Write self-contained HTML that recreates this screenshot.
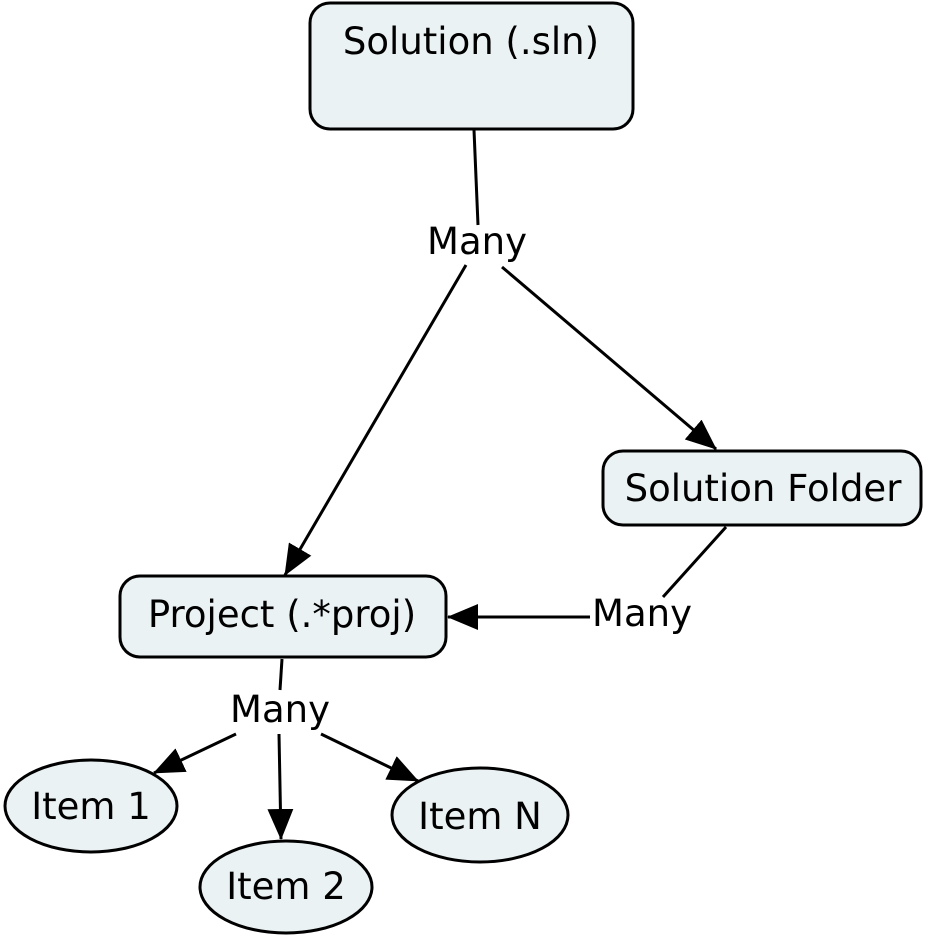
<!DOCTYPE html>
<html><head><meta charset="utf-8"><style>html,body{margin:0;padding:0;background:#fff}svg{display:block}</style></head>
<body>
<svg width="928" height="941" viewBox="0 0 928 941" xmlns="http://www.w3.org/2000/svg" font-family="'DejaVu Sans', Verdana, sans-serif" fill="#000">
<defs>
<marker id="a" markerWidth="32" markerHeight="26" refX="30" refY="13" orient="auto" markerUnits="userSpaceOnUse">
<path d="M0,0 L31,13 L0,26 Z" fill="#000"/>
</marker>
</defs>
<g stroke="#000" stroke-width="3" fill="#ebf2f4">
<rect x="310" y="3" width="323" height="126" rx="20"/>
<rect x="603" y="451" width="318" height="74" rx="20"/>
<rect x="120" y="576" width="326" height="81" rx="20"/>
<ellipse cx="91" cy="806" rx="86" ry="46"/>
<ellipse cx="286" cy="887" rx="86" ry="46"/>
<ellipse cx="480" cy="815" rx="88" ry="47"/>
</g>
<g stroke="#000" stroke-width="3" fill="none">
<line x1="474" y1="130" x2="478" y2="225"/>
<line x1="466" y1="265" x2="285" y2="575" marker-end="url(#a)"/>
<line x1="502" y1="267" x2="716" y2="449" marker-end="url(#a)"/>
<line x1="726" y1="527" x2="663" y2="597"/>
<line x1="590" y1="617" x2="448" y2="617" marker-end="url(#a)"/>
<line x1="282" y1="659" x2="280" y2="690"/>
<line x1="236" y1="734" x2="154" y2="773" marker-end="url(#a)"/>
<line x1="279" y1="734" x2="281" y2="839" marker-end="url(#a)"/>
<line x1="321" y1="734" x2="418" y2="781" marker-end="url(#a)"/>
</g>
<g font-size="37" text-anchor="middle">
<text x="471" y="54">Solution (.sln)</text>
<text x="763" y="501">Solution Folder</text>
<text x="282" y="627">Project (.*proj)</text>
<text x="477" y="254">Many</text>
<text x="642" y="626">Many</text>
<text x="280" y="722">Many</text>
<text x="91" y="819">Item 1</text>
<text x="286" y="899">Item 2</text>
<text x="480" y="829">Item N</text>
</g>
</svg>
</body></html>
